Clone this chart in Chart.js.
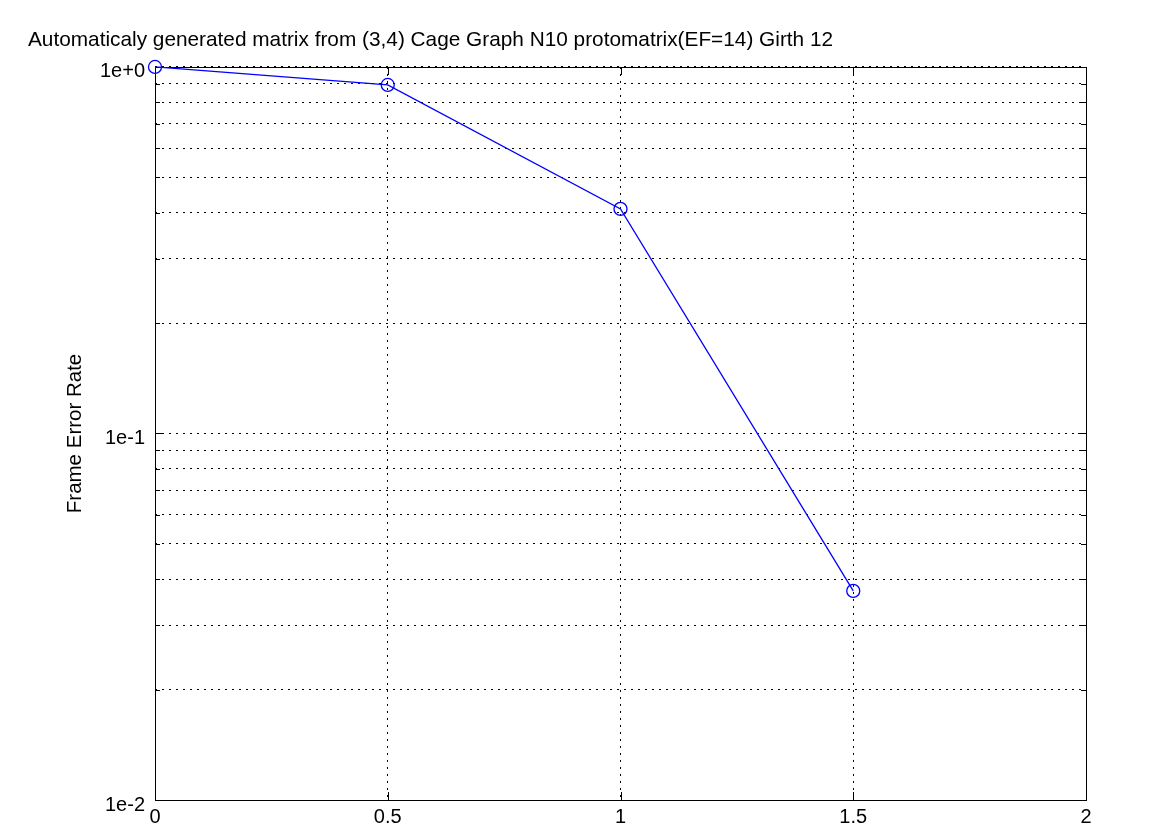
<!DOCTYPE html>
<html>
<head>
<meta charset="utf-8">
<script src="https://cdn.jsdelivr.net/npm/chart.js@4/dist/chart.umd.min.js"></script>
<style>
  html, body { margin: 0; padding: 0; background: #fff; }
  #wrap { width: 1175px; height: 835px; }
</style>
</head>
<body>
<div id="wrap"><canvas id="fer-chart" width="1175" height="835"></canvas></div>
<script>
const chartTitle = 'Automaticaly generated matrix from (3,4) Cage Graph N10 protomatrix(EF=14) Girth 12'
const yAxisTitle = 'Frame Error Rate'
const snrValues = [0, 0.5, 1, 1.5]
const ferValues = [1.0, 0.893, 0.41, 0.0372]
const xTicks = [0, 0.5, 1, 1.5, 2]
const yTicks = [0.01, 0.02, 0.03, 0.04, 0.05, 0.06, 0.07, 0.08, 0.09,
  0.1, 0.2, 0.3, 0.4, 0.5, 0.6, 0.7, 0.8, 0.9, 1]
const yDecades = [0.01, 0.1, 1]
const yTickLabels = ['1e-2', '1e-1', '1e+0']

const fontFamily = '"Liberation Sans", Arial, sans-serif'

// frame + inner tick marks like the octave/gnuplot box
const boxPlugin = {
  id: 'box',
  beforeDatasetsDraw(chart) {
    const { ctx, chartArea: a, scales } = chart
    ctx.save()
    ctx.strokeStyle = '#000'
    ctx.lineWidth = 1
    ctx.setLineDash([])
    ctx.beginPath()
    for (const v of xTicks) {
      const x = Math.round(scales.x.getPixelForValue(v)) + 0.5
      ctx.moveTo(x, a.bottom); ctx.lineTo(x, a.bottom - 8)
      ctx.moveTo(x, a.top); ctx.lineTo(x, a.top + 8)
    }
    for (const v of yTicks) {
      const len = yDecades.includes(v) ? 8 : 5
      const y = Math.round(scales.y.getPixelForValue(v)) + 0.5
      ctx.moveTo(a.left, y); ctx.lineTo(a.left + len, y)
      ctx.moveTo(a.right, y); ctx.lineTo(a.right - len, y)
    }
    ctx.stroke()
    ctx.strokeRect(Math.round(a.left) + 0.5, Math.round(a.top) + 0.5,
      Math.round(a.right - a.left), Math.round(a.bottom - a.top))
    ctx.restore()
  }
}

new Chart(document.getElementById('fer-chart'), {
  type: 'line',
  data: {
    datasets: [{
      data: snrValues.map((x, i) => ({ x, y: ferValues[i] })),
      borderColor: '#0000ff',
      borderWidth: 1.3,
      pointRadius: 6.5,
      pointBorderWidth: 1.3,
      pointBorderColor: '#0000ff',
      pointBackgroundColor: 'rgba(0,0,0,0)',
      tension: 0,
      fill: false,
      clip: false
    }]
  },
  options: {
    responsive: false,
    animation: false,
    layout: { padding: { left: 28, right: 89, top: 0, bottom: 0 } },
    plugins: {
      legend: { display: false },
      tooltip: { enabled: false },
      title: {
        display: true,
        text: chartTitle,
        align: 'start',
        color: '#000',
        font: { family: fontFamily, size: 20.8, weight: 'normal', lineHeight: 1.2 },
        padding: { top: 27.5, bottom: 14.5 }
      }
    },
    scales: {
      x: {
        type: 'linear',
        min: 0,
        max: 2,
        afterBuildTicks: s => { s.ticks = xTicks.map(v => ({ value: v })) },
        afterFit: s => { s.height = 35 },
        ticks: { color: '#000', padding: 5, font: { family: fontFamily, size: 20 }, callback: v => String(v) },
        grid: { color: '#000', lineWidth: 1, drawTicks: false },
        border: { display: false, dash: [2, 5] }
      },
      y: {
        type: 'logarithmic',
        min: 0.01,
        max: 1,
        afterBuildTicks: s => { s.ticks = yTicks.map(v => ({ value: v })) },
        afterFit: s => { s.width = 127 },
        ticks: {
          color: '#000', padding: 10, autoSkip: false, labelOffset: 5,
          font: { family: fontFamily, size: 20 },
          callback: v => {
            const i = yDecades.findIndex(d => Math.abs(d - v) < 1e-9)
            return i >= 0 ? yTickLabels[i] : ''
          }
        },
        grid: { color: '#000', lineWidth: 1, drawTicks: false },
        border: { display: false, dash: [2, 5] },
        title: {
          display: true,
          text: yAxisTitle,
          color: '#000',
          font: { family: fontFamily, size: 20.5 },
          padding: { top: 35, bottom: 0 }
        }
      }
    }
  },
  plugins: [boxPlugin]
})
</script>
</body>
</html>
